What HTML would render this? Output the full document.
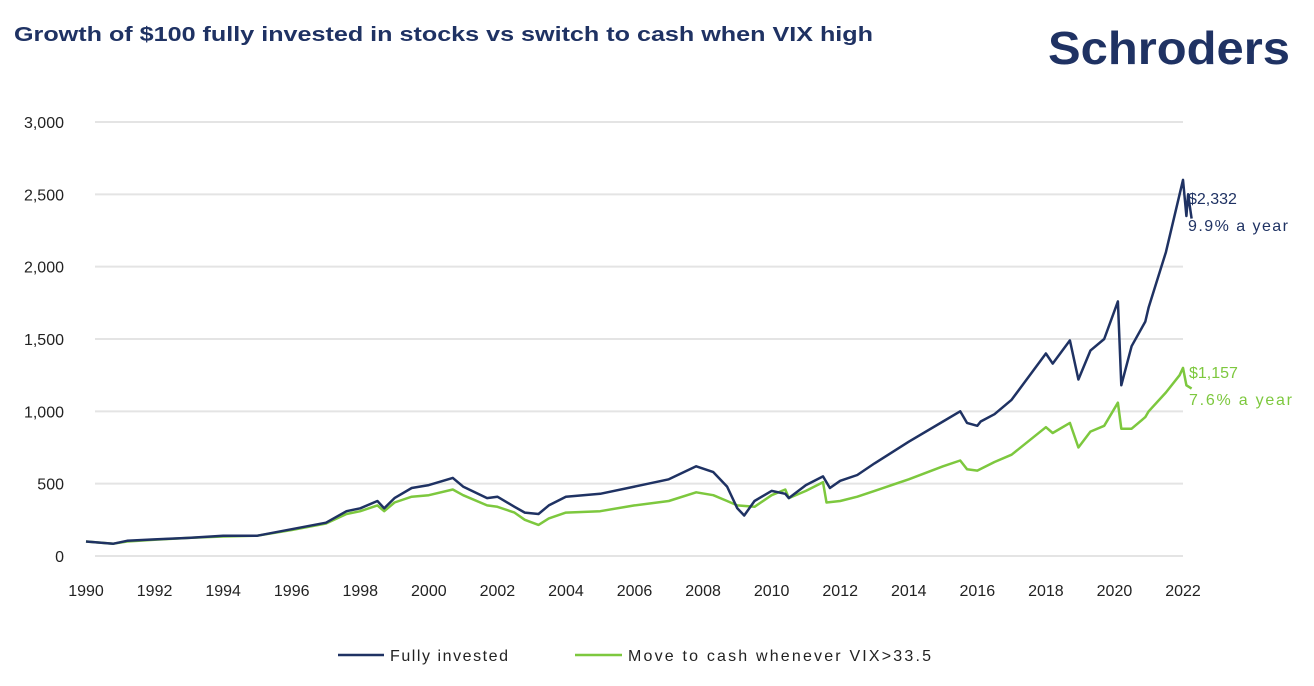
<!DOCTYPE html>
<html><head><meta charset="utf-8"><style>
body{margin:0;background:#fff;font-family:"Liberation Sans",sans-serif;}
</style></head><body>
<svg width="1314" height="681" viewBox="0 0 1314 681">
<text x="14" y="41" font-size="20" font-weight="bold" fill="#1f3263" textLength="859" lengthAdjust="spacingAndGlyphs">Growth of $100 fully invested in stocks vs switch to cash when VIX high</text>
<text x="1048" y="64" font-size="46" font-weight="bold" fill="#1f3263" textLength="242" lengthAdjust="spacingAndGlyphs">Schroders</text>
<g id="grid"></g><g id="yt"></g><g id="xt"></g><g id="lines"></g>
<text x="1188" y="204" font-size="16" fill="#1f3263">$2,332</text>
<text x="1188" y="231" font-size="16" fill="#1f3263" textLength="100">9.9% a year</text>
<text x="1189" y="378" font-size="16" fill="#7dc83e">$1,157</text>
<text x="1189" y="405" font-size="16" fill="#7dc83e" textLength="103">7.6% a year</text>
<g>
<line x1="338" y1="655" x2="384" y2="655" stroke="#1f3263" stroke-width="2.5"/>
<text x="390" y="661" font-size="16" fill="#222" textLength="118">Fully invested</text>
<line x1="575" y1="655" x2="622" y2="655" stroke="#7dc83e" stroke-width="2.5"/>
<text x="628" y="661" font-size="16" fill="#222" textLength="303">Move to cash whenever VIX&gt;33.5</text>
</g>
</svg>
<script>
const yTicks=[0,500,1000,1500,2000,2500,3000];
const xTicks=[1990,1992,1994,1996,1998,2000,2002,2004,2006,2008,2010,2012,2014,2016,2018,2020,2022];
const fullT=[1990,1990.8,1991.2,1992,1993,1994,1995,1996,1997,1997.6,1998,1998.5,1998.7,1999,1999.5,2000,2000.7,2001,2001.7,2002,2002.5,2002.8,2003.2,2003.5,2004,2005,2006,2007,2007.8,2008.3,2008.7,2009,2009.2,2009.5,2010,2010.4,2010.5,2011,2011.5,2011.7,2012,2012.5,2013,2014,2015,2015.5,2015.7,2016,2016.1,2016.5,2017,2018,2018.2,2018.7,2018.95,2019.3,2019.7,2020.1,2020.2,2020.5,2020.9,2021,2021.5,2021.9,2022,2022.1,2022.15,2022.25];
const fullV=[100,85,105,115,125,140,140,185,230,310,330,380,330,400,470,490,540,480,400,410,340,300,290,350,410,430,480,530,620,580,480,330,280,380,450,430,400,490,550,470,520,560,640,790,930,1000,920,900,930,980,1080,1400,1330,1490,1220,1420,1500,1760,1180,1450,1620,1720,2100,2500,2600,2350,2500,2332];
const cashT=[1990,1990.8,1991.2,1992,1993,1994,1995,1996,1997,1997.6,1998,1998.5,1998.7,1999,1999.5,2000,2000.7,2001,2001.7,2002,2002.5,2002.8,2003.2,2003.5,2004,2005,2006,2007,2007.8,2008.3,2008.7,2009,2009.5,2010,2010.4,2010.5,2011,2011.5,2011.6,2012,2012.5,2013,2014,2015,2015.5,2015.7,2016,2016.5,2017,2018,2018.2,2018.7,2018.95,2019.3,2019.7,2020.1,2020.2,2020.5,2020.9,2021,2021.5,2021.9,2022,2022.1,2022.25];
const cashV=[100,85,100,112,125,135,140,180,225,290,310,350,310,370,410,420,460,420,350,340,300,250,215,260,300,310,350,380,440,420,380,350,340,420,460,400,450,510,370,380,410,450,530,620,660,600,590,650,700,890,850,920,750,860,900,1060,880,880,960,1000,1130,1250,1300,1180,1157];
const NS="http://www.w3.org/2000/svg";
const x0=86,x1=1183,y0=556,y1=122;
const X=t=>x0+(t-1990)/(2022-1990)*(x1-x0);
const Y=v=>y0-v/3000*(y0-y1);
function mk(tag,at,parent){const e=document.createElementNS(NS,tag);for(const k in at)e.setAttribute(k,at[k]);document.getElementById(parent).appendChild(e);return e;}
yTicks.forEach(v=>{
 const l=mk('line',{x1:95,x2:1183,y1:Y(v),y2:Y(v),stroke:'#e4e4e4','stroke-width':2},'grid');
 
 
 const t=mk('text',{x:64,y:Y(v)+6,'text-anchor':'end','font-size':16,fill:'#222'},'yt');
 t.textContent=v.toLocaleString('en-US');
 
 
});
xTicks.forEach(v=>{
 const t=mk('text',{x:X(v),y:596,'text-anchor':'middle','font-size':16,fill:'#222'},'xt');
 t.textContent=v;
 
 
});
function path(T,V,c,name){
 const d=T.map((t,i)=>(i?'L':'M')+X(t).toFixed(1)+','+Y(V[i]).toFixed(1)).join('');
 const p=mk('path',{d:d,fill:'none',stroke:c,'stroke-width':2.5,'stroke-linejoin':'round'},'lines');
 
 
}
path(cashT,cashV,'#7dc83e','cash-switch-line');
path(fullT,fullV,'#1f3263','fully-invested-line');
</script>
</body></html>
